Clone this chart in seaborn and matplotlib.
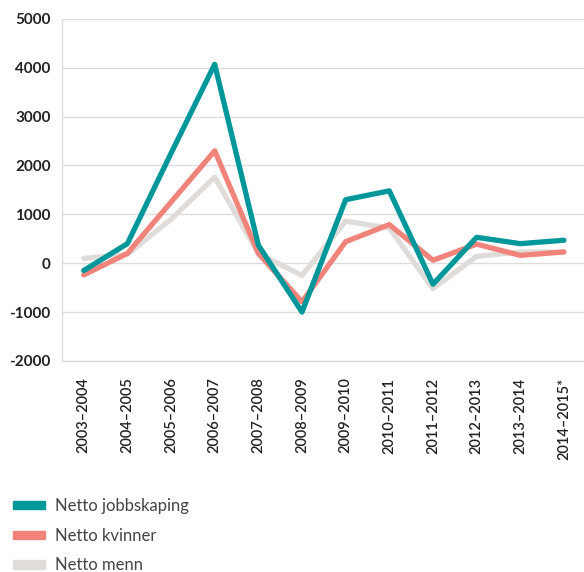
import numpy as np
import pandas as pd
import seaborn as sns
import matplotlib.pyplot as plt
from matplotlib.ticker import FixedLocator

perioder = ["2003–2004", "2004–2005", "2005–2006", "2006–2007", "2007–2008",
            "2008–2009", "2009–2010", "2010–2011", "2011–2012", "2012–2013",
            "2013–2014", "2014–2015*"]
jobbskaping = [-150, 400, 2250, 4070, 370, -1000, 1300, 1480, -430, 530, 400, 470]
kvinner = [-240, 200, 1250, 2300, 200, -790, 440, 790, 60, 390, 160, 230]
menn = [100, 180, 900, 1760, 200, -250, 860, 720, -520, 140, 230, 230]
serier = ["Netto jobbskaping", "Netto kvinner", "Netto menn"]

df = pd.DataFrame({"periode": perioder * 3,
                   "verdi": jobbskaping + kvinner + menn,
                   "serie": np.repeat(serier, len(perioder))})
df["pos"] = np.tile(np.arange(len(perioder)), 3)

sns.set_style("white")
plt.rcParams['font.family'] = ['Lato', 'DejaVu Sans']
plt.rcParams['axes.unicode_minus'] = False

pal = ["#00979B", "#F0847A", "#E0DCD9"]

fig = plt.figure(figsize=(5.84, 5.72), dpi=100)
ax = fig.add_axes([0.106, 0.369, 0.897, 0.598])

# grey first so teal ends up on top
sns.lineplot(data=df, x="pos", y="verdi", hue="serie", hue_order=serier[::-1],
             palette=pal[::-1], linewidth=3.8, ax=ax, legend=False)

ax.set_xlim(-0.5, len(perioder) - 0.5)
ax.set_ylim(-2000, 5000)
ax.set_yticks(range(-2000, 5001, 1000))
ax.set_yticklabels([str(v) for v in range(-2000, 5001, 1000)],
                   fontsize=11, fontweight='bold', color="#222222")
ax.set_xticks(range(len(perioder)))
ax.set_xticklabels(perioder, rotation=90, fontsize=10.5, color="#222222",
                   fontweight='semibold')
ax.xaxis.set_minor_locator(FixedLocator(np.arange(0.5, len(perioder) - 0.5, 1)))
ax.tick_params(axis="x", which="major", length=0, pad=12)
ax.tick_params(axis="x", which="minor", length=9, width=1, color="#dddddd")
ax.tick_params(axis="y", length=0, pad=8)
ax.grid(axis="y", color="#dddddd", linewidth=1)
ax.set_axisbelow(True)
ax.set_xlabel("")
ax.set_ylabel("")
for s in ["top", "right"]:
    ax.spines[s].set_visible(False)
for s in ["left", "bottom"]:
    ax.spines[s].set_color("#dddddd")
    ax.spines[s].set_linewidth(1)

handles = [plt.Rectangle((0, 0), 1, 1, color=c) for c in pal]
fig.legend(handles, serier, loc="lower left", bbox_to_anchor=(0.005, -0.02),
           frameon=False, handlelength=1.95, handleheight=0.42,
           labelspacing=0.82, handletextpad=0.55, borderaxespad=0.2,
           labelcolor="#444444", prop={'size': 12, 'weight': 'normal'})

plt.savefig("out.png", dpi=100)
